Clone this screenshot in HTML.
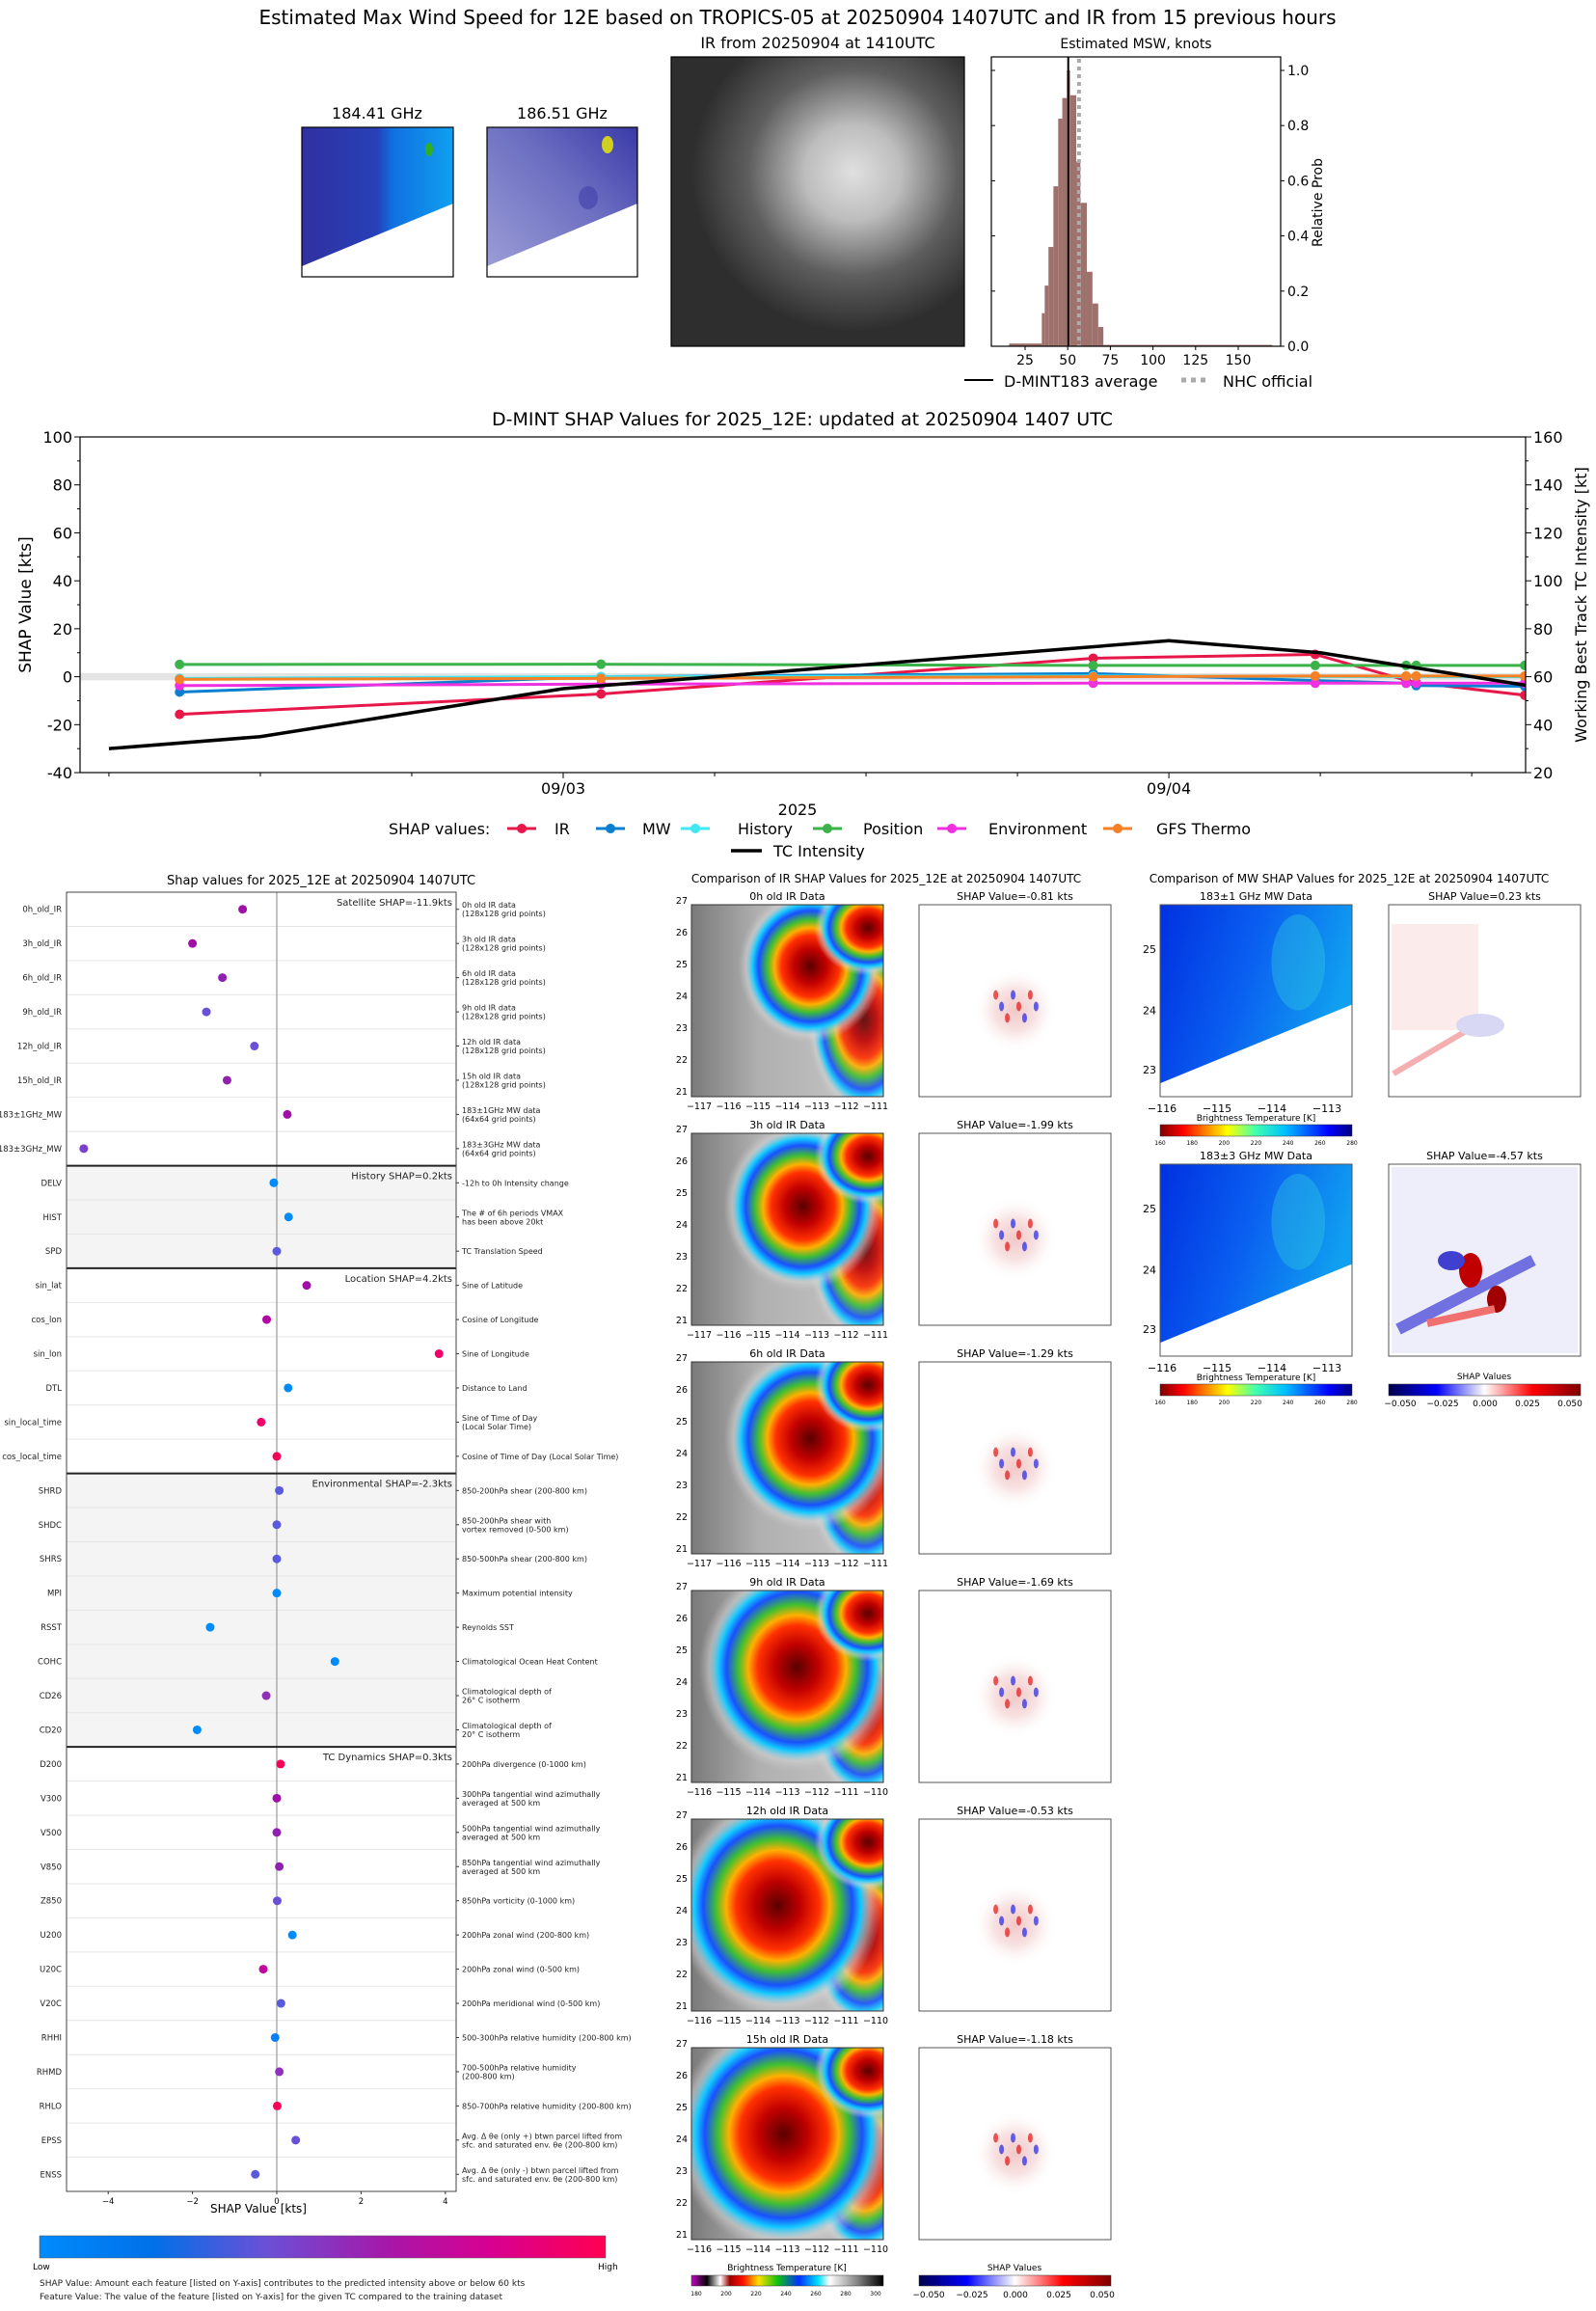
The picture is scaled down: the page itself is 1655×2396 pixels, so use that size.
<!DOCTYPE html>
<html><head><meta charset="utf-8">
<style>
html,body{margin:0;padding:0;background:#fff;}
svg{display:block;font-family:"DejaVu Sans","Liberation Sans",sans-serif;}
</style></head>
<body>
<svg id="root" width="1655" height="2396" viewBox="0 0 1655 2396" xmlns="http://www.w3.org/2000/svg">
<defs>
  <radialGradient id="irStorm" cx="0.5" cy="0.5" r="0.5">
    <stop offset="0" stop-color="#5a0000"/><stop offset="0.22" stop-color="#c00000"/>
    <stop offset="0.4" stop-color="#ff3000"/><stop offset="0.5" stop-color="#ffb000"/>
    <stop offset="0.6" stop-color="#40c030"/><stop offset="0.72" stop-color="#1a50ff"/>
    <stop offset="0.8" stop-color="#10c8ff"/><stop offset="0.9" stop-color="#d8d8d8" stop-opacity="0.5"/>
    <stop offset="1" stop-color="#cccccc" stop-opacity="0"/>
  </radialGradient>
  <linearGradient id="irBg" x1="0" x2="1" y1="0" y2="0">
    <stop offset="0" stop-color="#7a7a7a"/><stop offset="0.35" stop-color="#b0b0b0"/><stop offset="1" stop-color="#c8c8c8"/>
  </linearGradient>
  <radialGradient id="shapBlob" cx="0.5" cy="0.5" r="0.5">
    <stop offset="0" stop-color="#f2c8c8"/><stop offset="0.5" stop-color="#f8e2e2"/><stop offset="1" stop-color="#ffffff" stop-opacity="0"/>
  </radialGradient>
  <linearGradient id="mwBlue" x1="0" x2="1" y1="0" y2="0.3">
    <stop offset="0" stop-color="#0030e0"/><stop offset="0.5" stop-color="#0a5ef0"/><stop offset="1" stop-color="#10a0f0"/>
  </linearGradient>
  <linearGradient id="mwSmall1" x1="0" x2="1" y1="0" y2="0">
    <stop offset="0" stop-color="#3030a0"/><stop offset="0.5" stop-color="#2840b8"/><stop offset="0.6" stop-color="#1070e0"/><stop offset="1" stop-color="#10a0f0"/>
  </linearGradient>
  <linearGradient id="mwSmall2" x1="0" x2="1" y1="1" y2="0">
    <stop offset="0" stop-color="#9ea0d8"/><stop offset="0.6" stop-color="#6a6cc0"/><stop offset="1" stop-color="#3a3aa8"/>
  </linearGradient>
  <radialGradient id="irGray" cx="0.62" cy="0.4" r="0.55">
    <stop offset="0" stop-color="#e0e0e0"/><stop offset="0.3" stop-color="#bdbdbd"/><stop offset="0.65" stop-color="#5e5e5e"/><stop offset="1" stop-color="#2e2e2e"/>
  </radialGradient>
  <linearGradient id="shapCbar" x1="0" x2="1">
    <stop offset="0" stop-color="#008bfb"/><stop offset="0.2" stop-color="#0070e8"/><stop offset="0.4" stop-color="#6a50d6"/>
    <stop offset="0.62" stop-color="#a816a8"/><stop offset="0.8" stop-color="#d80090"/><stop offset="1" stop-color="#ff0052"/>
  </linearGradient>
  <linearGradient id="btCbar" x1="0" x2="1">
    <stop offset="0" stop-color="#c800c8"/><stop offset="0.08" stop-color="#000"/><stop offset="0.15" stop-color="#fff"/>
    <stop offset="0.2" stop-color="#a00000"/><stop offset="0.27" stop-color="#ff1000"/><stop offset="0.35" stop-color="#ffe000"/>
    <stop offset="0.45" stop-color="#10c010"/><stop offset="0.56" stop-color="#0030ff"/><stop offset="0.66" stop-color="#00e0ff"/>
    <stop offset="0.72" stop-color="#fff"/><stop offset="0.86" stop-color="#888"/><stop offset="1" stop-color="#000"/>
  </linearGradient>
  <linearGradient id="jetR" x1="0" x2="1">
    <stop offset="0" stop-color="#800000"/><stop offset="0.12" stop-color="#ff0000"/><stop offset="0.35" stop-color="#ffff00"/>
    <stop offset="0.5" stop-color="#40ffb0"/><stop offset="0.65" stop-color="#00c0ff"/><stop offset="0.88" stop-color="#0000ff"/><stop offset="1" stop-color="#000080"/>
  </linearGradient>
  <linearGradient id="seismic" x1="0" x2="1">
    <stop offset="0" stop-color="#00004c"/><stop offset="0.25" stop-color="#0000ff"/><stop offset="0.5" stop-color="#ffffff"/>
    <stop offset="0.75" stop-color="#ff0000"/><stop offset="1" stop-color="#800000"/>
  </linearGradient>
</defs>

<text x="827" y="25" font-size="20" text-anchor="middle">Estimated Max Wind Speed for 12E based on TROPICS-05 at 20250904 1407UTC and IR from 15 previous hours</text>

<g>
  <text x="391" y="123" font-size="16" text-anchor="middle">184.41 GHz</text>
  <rect x="313" y="132" width="157" height="155" fill="url(#mwSmall1)"/>
  <ellipse cx="445" cy="155" rx="4" ry="7" fill="#30b020"/>
  <polygon points="313,276 470,211 470,287 313,287" fill="#fff"/>
  <rect x="313" y="132" width="157" height="155" fill="none" stroke="#000" stroke-width="1.2"/>
</g>
<g>
  <text x="583" y="123" font-size="16" text-anchor="middle">186.51 GHz</text>
  <rect x="505" y="132" width="156" height="155" fill="url(#mwSmall2)"/>
  <ellipse cx="630" cy="150" rx="6" ry="9" fill="#d0d020"/>
  <ellipse cx="610" cy="205" rx="10" ry="12" fill="#4040a8" opacity="0.6"/>
  <polygon points="505,276 661,211 661,287 505,287" fill="#fff"/>
  <rect x="505" y="132" width="156" height="155" fill="none" stroke="#000" stroke-width="1.2"/>
</g>
<g>
  <text x="848" y="50" font-size="16" text-anchor="middle">IR from 20250904 at 1410UTC</text>
  <rect x="696" y="59" width="304" height="300" fill="url(#irGray)" stroke="#000" stroke-width="1.2"/>
</g>

<g id="hist"></g>
<g id="main"></g>
<g id="feat"></g>
<g id="irpanels"></g>
<g id="mwpanels"></g>
</svg>

<script>
const histEdges=[15.6,34.8,36.5,38.7,41.6,44.4,46.8,49.5,51.4,55,57.4,61.2,64.5,67.9,70.9,170];
const histProb=[0.01,0.12,0.22,0.36,0.58,0.825,0.90,1.0,0.91,0.67,0.52,0.27,0.155,0.07,0.005];
const histMean=[50.3];
const histNhc=[56.6];
const histXTicks=[25,50,75,100,125,150];
const histYTicks=[0,0.2,0.4,0.6,0.8,1.0];

const shapHours=[8.8,25.5,45,53.8,57.4,57.8,62.1];
const shapIR=[-15.7,-7.2,7.7,9.3,-1.5,-2.5,-7.7];
const shapMW=[-6.4,0,1.3,-1.6,-2.7,-3.7,-4.0];
const shapHistory=[-0.7,0,0.3,0.1,0,0,0];
const shapPosition=[5.1,5.2,4.7,4.7,4.7,4.7,4.7];
const shapEnvironment=[-3.7,-3.1,-2.7,-2.7,-2.7,-2.7,-2.7];
const shapGfs=[-1.1,-0.7,0,0.3,0.3,0.3,0.3];
const tcHours=[6,12,24,48,54,63];
const tcIntensity=[30,35,55,75,70,55];
const leftTicks=[-40,-20,0,20,40,60,80,100];
const rightTicks=[20,40,60,80,100,120,140,160];
const dateTickHours=[24,48];
const dateTickLabels=["09/03","09/04"];

const featNames=["0h_old_IR","3h_old_IR","6h_old_IR","9h_old_IR","12h_old_IR","15h_old_IR","183±1GHz_MW","183±3GHz_MW","DELV","HIST","SPD","sin_lat","cos_lon","sin_lon","DTL","sin_local_time","cos_local_time","SHRD","SHDC","SHRS","MPI","RSST","COHC","CD26","CD20","D200","V300","V500","V850","Z850","U200","U20C","V20C","RHHI","RHMD","RHLO","EPSS","ENSS"];
const featValues=[-0.81,-2.0,-1.29,-1.67,-0.53,-1.18,0.25,-4.58,-0.07,0.28,0.0,0.71,-0.24,3.85,0.27,-0.37,0.0,0.06,0.0,0.0,0.0,-1.58,1.38,-0.25,-1.89,0.09,0.0,0.0,0.06,0.01,0.37,-0.32,0.1,-0.04,0.06,0.01,0.45,-0.51];
const featDesc=["0h old IR data|(128x128 grid points)","3h old IR data|(128x128 grid points)","6h old IR data|(128x128 grid points)","9h old IR data|(128x128 grid points)","12h old IR data|(128x128 grid points)","15h old IR data|(128x128 grid points)","183±1GHz MW data|(64x64 grid points)","183±3GHz MW data|(64x64 grid points)","-12h to 0h Intensity change","The # of 6h periods VMAX|has been above 20kt","TC Translation Speed","Sine of Latitude","Cosine of Longitude","Sine of Longitude","Distance to Land","Sine of Time of Day|(Local Solar Time)","Cosine of Time of Day (Local Solar Time)","850-200hPa shear (200-800 km)","850-200hPa shear with|vortex removed (0-500 km)","850-500hPa shear (200-800 km)","Maximum potential intensity","Reynolds SST","Climatological Ocean Heat Content","Climatological depth of|26° C isotherm","Climatological depth of|20° C isotherm","200hPa divergence (0-1000 km)","300hPa tangential wind azimuthally|averaged at 500 km","500hPa tangential wind azimuthally|averaged at 500 km","850hPa tangential wind azimuthally|averaged at 500 km","850hPa vorticity (0-1000 km)","200hPa zonal wind (200-800 km)","200hPa zonal wind (0-500 km)","200hPa meridional wind (0-500 km)","500-300hPa relative humidity (200-800 km)","700-500hPa relative humidity|(200-800 km)","850-700hPa relative humidity (200-800 km)","Avg. Δ θe (only +) btwn parcel lifted from|sfc. and saturated env. θe (200-800 km)","Avg. Δ θe (only -) btwn parcel lifted from|sfc. and saturated env. θe (200-800 km)"];
const featColors=["#a010a8","#a010a8","#9020b0","#6a50d6","#6a50d6","#9020b0","#a010a8","#7a40d0","#008bfb","#008bfb","#5a5ade","#a010a8","#b008a0","#f00068","#008bfb","#f00068","#f80058","#5a5ade","#5a5ade","#5a5ade","#008bfb","#008bfb","#008bfb","#9030b8","#008bfb","#f80058","#a010a8","#9020b0","#9020b0","#6a50d6","#008bfb","#c0089c","#5a5ade","#0a80f8","#9030c0","#ff0052","#6a50d6","#5a5ade"];
const groupStarts=[0,8,11,17,25];
const groupTitles=["Satellite SHAP=-11.9kts","History SHAP=0.2kts","Location SHAP=4.2kts","Environmental SHAP=-2.3kts","TC Dynamics SHAP=0.3kts"];
const featXTicks=[-4,-2,0,2,4];

const irRowTitles=["0h old IR Data","3h old IR Data","6h old IR Data","9h old IR Data","12h old IR Data","15h old IR Data"];
const irShapTitles=["SHAP Value=-0.81 kts","SHAP Value=-1.99 kts","SHAP Value=-1.29 kts","SHAP Value=-1.69 kts","SHAP Value=-0.53 kts","SHAP Value=-1.18 kts"];
</script>
<script>
const NS="http://www.w3.org/2000/svg";
function mk(parent,tag,attrs,txt){const e=document.createElementNS(NS,tag);for(const k in attrs)e.setAttribute(k,attrs[k]);if(txt!==undefined)e.textContent=txt;parent.appendChild(e);return e;}

(function(){
  const g=document.getElementById('hist');
  const L=1028,R=1328,T=59,B=359;
  const xs=k=>1063+(k-25)*1.768, ys=p=>B-p*286;
  const t=mk(g,'text',{x:1178,y:50,'font-size':14,'text-anchor':'middle'},'Estimated MSW, knots');
  
  
  for(let i=0;i<histProb.length;i++){
    const x0=xs(histEdges[i]),x1=xs(histEdges[i+1]);
    const r=mk(g,'rect',{x:x0,y:ys(histProb[i]),width:Math.max(0,x1-x0),height:B-ys(histProb[i]),fill:'#9e716c'});
    
    
  }
  const ml=mk(g,'line',{x1:xs(histMean[0]),x2:xs(histMean[0]),y1:T,y2:B,stroke:'#000','stroke-width':2});
  
  
  const nl=mk(g,'line',{x1:xs(histNhc[0]),x2:xs(histNhc[0]),y1:T+2,y2:B,stroke:'#aaa','stroke-width':4,'stroke-dasharray':'4,4'});
  
  
  mk(g,'rect',{x:L,y:T,width:R-L,height:B-T,fill:'none',stroke:'#000','stroke-width':1.2});
  histXTicks.forEach(v=>{mk(g,'line',{x1:xs(v),x2:xs(v),y1:B,y2:B+4,stroke:'#000'});
    const tl=mk(g,'text',{x:xs(v),y:B+19,'font-size':14,'text-anchor':'middle'},String(v));
    
    });
  histYTicks.forEach(v=>{mk(g,'line',{x1:R,x2:R+4,y1:ys(v),y2:ys(v),stroke:'#000'});mk(g,'line',{x1:L,x2:L+4,y1:ys(v),y2:ys(v),stroke:'#000'});
    const tl=mk(g,'text',{x:R+7,y:ys(v)+5,'font-size':14},v.toFixed(1));
    
    });
  const yl=mk(g,'text',{x:0,y:0,'font-size':14,'text-anchor':'middle',transform:'translate(1371,210) rotate(-90)'},'Relative Prob');
  
  
  mk(g,'line',{x1:1000,x2:1030,y1:394,y2:394,stroke:'#000','stroke-width':2});
  const l1=mk(g,'text',{x:1041,y:401,'font-size':16},'D-MINT183 average');
  
  
  mk(g,'line',{x1:1225,x2:1255,y1:394,y2:394,stroke:'#aaa','stroke-width':5,'stroke-dasharray':'5,5'});
  const l2=mk(g,'text',{x:1268,y:401,'font-size':16},'NHC official');
  
  
})();

(function(){
  const g=document.getElementById('main');
  const L=83,R=1582,T=453,B=801;
  const xs=h=>584+(h-24)*26.17, yl=v=>T+(100-v)*2.486, yr=k=>T+(160-k)*2.486;
  const tt=mk(g,'text',{x:832,y:441,'font-size':19,'text-anchor':'middle'},'D-MINT SHAP Values for 2025_12E: updated at 20250904 1407 UTC');
  
  
  const cp=mk(g,'clipPath',{id:'mainClip'});mk(cp,'rect',{x:L,y:T,width:R-L,height:B-T});
  const band=mk(g,'rect',{x:L,y:yl(1.5),width:R-L,height:yl(-1.5)-yl(1.5),fill:'#e4e4e4'});
  
  
  const pg=mk(g,'g',{'clip-path':'url(#mainClip)'});
  const series=[["IR",shapIR,"#e8174a"],["MW",shapMW,"#0a7fd0"],["History",shapHistory,"#40e8f0"],["Position",shapPosition,"#3bb34a"],["Environment",shapEnvironment,"#f030e0"],["GFS Thermo",shapGfs,"#f58025"]];
  series.forEach(([nm,vals,c])=>{
    const pts=shapHours.map((h,i)=>xs(h)+','+yl(vals[i])).join(' ');
    const pl=mk(pg,'polyline',{points:pts,fill:'none',stroke:c,'stroke-width':3});
    
    
    shapHours.forEach((h,i)=>{const m=mk(pg,'circle',{cx:xs(h),cy:yl(vals[i]),r:5,fill:c});
      
      });
  });
  const tc=mk(pg,'polyline',{points:tcHours.map((h,i)=>xs(h)+','+yr(tcIntensity[i])).join(' '),fill:'none',stroke:'#000','stroke-width':3.5});
  
  
  mk(g,'rect',{x:L,y:T,width:R-L,height:B-T,fill:'none',stroke:'#000','stroke-width':1.2});
  for(let v=-40;v<=100;v+=10){mk(g,'line',{x1:L-(v%20?3:6),x2:L,y1:yl(v),y2:yl(v),stroke:'#000'});}
  for(let k=20;k<=160;k+=10){mk(g,'line',{x1:R,x2:R+(k%20?3:6),y1:yr(k),y2:yr(k),stroke:'#000'});}
  leftTicks.forEach(v=>{const t=mk(g,'text',{x:L-8,y:yl(v)+6,'font-size':16,'text-anchor':'end'},String(v));
    
    });
  rightTicks.forEach(k=>{const t=mk(g,'text',{x:R+8,y:yr(k)+6,'font-size':16},String(k));
    
    });
  for(let h=6;h<=60;h+=6){mk(g,'line',{x1:xs(h),x2:xs(h),y1:B,y2:B+(h%24?4:6),stroke:'#000'});}
  dateTickHours.forEach((h,i)=>{const t=mk(g,'text',{x:xs(h),y:B+22,'font-size':16,'text-anchor':'middle'},dateTickLabels[i]);
    
    });
  const xt=mk(g,'text',{x:827,y:845,'font-size':16,'text-anchor':'middle'},'2025');
  
  
  const ylab=mk(g,'text',{x:0,y:0,'font-size':17,'text-anchor':'middle',transform:'translate(32,627) rotate(-90)'},'SHAP Value [kts]');
  
  
  const yrl=mk(g,'text',{x:0,y:0,'font-size':16,'text-anchor':'middle',transform:'translate(1645,627) rotate(-90)'},'Working Best Track TC Intensity [kt]');
  
  
  const lt=mk(g,'text',{x:403,y:865,'font-size':16},'SHAP values:');
  
  
  const lx=[[526,575],[618,666],[706,765],[843,895],[972,1025],[1144,1199]];
  series.forEach(([nm,vals,c],i)=>{
    mk(g,'line',{x1:lx[i][0],x2:lx[i][0]+30,y1:859,y2:859,stroke:c,'stroke-width':3});
    mk(g,'circle',{cx:lx[i][0]+15,cy:859,r:5,fill:c});
    const t=mk(g,'text',{x:lx[i][1],y:865,'font-size':16},nm);
    
    
  });
  mk(g,'line',{x1:758,x2:790,y1:882,y2:882,stroke:'#000','stroke-width':3.5});
  const tl=mk(g,'text',{x:802,y:888,'font-size':16},'TC Intensity');
  
  
})();

(function(){
  const g=document.getElementById('feat');
  const L=69,R=473,T=925,B=2272,n=featNames.length,rh=(B-T)/n;
  const xs=v=>287+v*43.7, yc=i=>T+(i+0.5)*rh;
  const tt=mk(g,'text',{x:333,y:917,'font-size':13,'text-anchor':'middle'},'Shap values for 2025_12E at 20250904 1407UTC');
  
  
  [[8,11],[17,25]].forEach(([a,b])=>mk(g,'rect',{x:L,y:T+a*rh,width:R-L,height:(b-a)*rh,fill:'#f4f4f4'}));
  for(let i=1;i<n;i++)mk(g,'line',{x1:L,x2:R,y1:T+i*rh,y2:T+i*rh,stroke:'#e6e6e6'});
  mk(g,'line',{x1:xs(0),x2:xs(0),y1:T,y2:B,stroke:'#999','stroke-width':1.2});
  groupStarts.forEach((s,i)=>{if(s>0)mk(g,'line',{x1:L,x2:R,y1:T+s*rh,y2:T+s*rh,stroke:'#222','stroke-width':2});
    const t=mk(g,'text',{x:R-4,y:T+s*rh+14,'font-size':10,'text-anchor':'end',fill:'#222'},groupTitles[i]);
    
    });
  featNames.forEach((nm,i)=>{
    const t=mk(g,'text',{x:L-5,y:yc(i)+3,'font-size':8.5,'text-anchor':'end',fill:'#222'},nm);
    
    
    mk(g,'line',{x1:R,x2:R+3,y1:yc(i),y2:yc(i),stroke:'#333'});
    const parts=featDesc[i].split('|');
    parts.forEach((p,j)=>{const d=mk(g,'text',{x:R+6,y:yc(i)+3+(j-(parts.length-1)/2)*9,'font-size':8,fill:'#222'},p);
      
      });
    const c=mk(g,'circle',{cx:xs(featValues[i]),cy:yc(i),r:4.5,fill:featColors[i]});
    
    
  });
  mk(g,'rect',{x:L,y:T,width:R-L,height:B-T,fill:'none',stroke:'#444','stroke-width':1});
  featXTicks.forEach(v=>{mk(g,'line',{x1:xs(v),x2:xs(v),y1:B,y2:B+3,stroke:'#333'});
    const t=mk(g,'text',{x:xs(v),y:B+13,'font-size':8.5,'text-anchor':'middle'},(v<0?'−':'')+Math.abs(v));
    
    });
  const xl=mk(g,'text',{x:268,y:2294,'font-size':12,'text-anchor':'middle'},'SHAP Value [kts]');
  
  
  const cb=mk(g,'rect',{x:41,y:2318,width:587,height:23,fill:'url(#shapCbar)',stroke:'#555','stroke-width':0.5});
  
  
  mk(g,'text',{x:34,y:2353,'font-size':9},'Low');
  mk(g,'text',{x:620,y:2353,'font-size':9},'High');
  const n1=mk(g,'text',{x:41,y:2370,'font-size':9,fill:'#222'},'SHAP Value: Amount each feature [listed on Y-axis] contributes to the predicted intensity above or below 60 kts');
  
  
  const n2=mk(g,'text',{x:41,y:2384,'font-size':9,fill:'#222'},'Feature Value: The value of the feature [listed on Y-axis] for the given TC compared to the training dataset');
  
  
})();

(function(){
  const g=document.getElementById('irpanels');
  const t=mk(g,'text',{x:919,y:915,'font-size':12,'text-anchor':'middle'},'Comparison of IR SHAP Values for 2025_12E at 20250904 1407UTC');
  
  
  const IX=717,SX=953,W=199,H=199;
  const blobs=[[0.62,0.32,0.5],[0.58,0.38,0.55],[0.62,0.4,0.6],[0.55,0.4,0.68],[0.45,0.45,0.72],[0.48,0.45,0.76]];
  const lonLabels=[["−117","−116","−115","−114","−113","−112","−111"],["−117","−116","−115","−114","−113","−112","−111"],["−117","−116","−115","−114","−113","−112","−111"],["−116","−115","−114","−113","−112","−111","−110"],["−116","−115","−114","−113","−112","−111","−110"],["−116","−115","−114","−113","−112","−111","−110"]];
  for(let r=0;r<6;r++){
    const y=938+r*237;
    const a=mk(g,'text',{x:IX+W/2,y:y-5,'font-size':11,'text-anchor':'middle'},irRowTitles[r]);
    
    
    const b=mk(g,'text',{x:SX+W/2,y:y-5,'font-size':11,'text-anchor':'middle'},irShapTitles[r]);
    
    
    const cid='irc'+r;const cp=mk(g,'clipPath',{id:cid});mk(cp,'rect',{x:IX,y:y,width:W,height:H});
    const ig=mk(g,'g',{'clip-path':'url(#'+cid+')'});
    
    
    mk(ig,'rect',{x:IX,y:y,width:W,height:H,fill:'url(#irBg)'});
    const [bx,by,bs]=blobs[r];
    mk(ig,'ellipse',{cx:IX+0.9*W,cy:y+0.6*H,rx:0.3*W,ry:0.5*H,fill:'url(#irStorm)',opacity:0.9});
    mk(ig,'ellipse',{cx:IX+bx*W,cy:y+by*H,rx:bs*W*0.75,ry:bs*H*0.8,fill:'url(#irStorm)'});
    mk(ig,'ellipse',{cx:IX+0.92*W,cy:y+0.12*H,rx:0.28*W,ry:0.25*H,fill:'url(#irStorm)'});
    mk(g,'rect',{x:IX,y:y,width:W,height:H,fill:'none',stroke:'#333'});
    lonLabels[r].forEach((l,i)=>{const tx=mk(g,'text',{x:IX+8+i*30.5,y:y+H+13,'font-size':9.5,'text-anchor':'middle'},l);
      
      });
    for(let k=0;k<7;k++){const tx=mk(g,'text',{x:IX-4,y:y+H-2-k*33,'font-size':9.5,'text-anchor':'end'},String(21+k));
      
      }
    const sg=mk(g,'g',{});
    
    
    mk(sg,'rect',{x:SX,y:y,width:W,height:H,fill:'#fff',stroke:'#555'});
    mk(sg,'ellipse',{cx:SX+W*0.5,cy:y+H*0.55,rx:W*0.22,ry:H*0.22,fill:'url(#shapBlob)'});
    for(let k=0;k<8;k++){
      mk(sg,'ellipse',{cx:SX+W*(0.4+k*0.03),cy:y+H*(0.47+(k%3)*0.06),rx:2.5,ry:5,fill:k%2?'#3030e0':'#e02020',opacity:0.75});
    }
  }
  const bt=mk(g,'rect',{x:717,y:2359,width:199,height:11,fill:'url(#btCbar)',stroke:'#333','stroke-width':0.5});
  
  
  mk(g,'text',{x:816,y:2354,'font-size':9,'text-anchor':'middle'},'Brightness Temperature [K]');
  [180,200,220,240,260,280,300].forEach((v,i)=>mk(g,'text',{x:717+i*31+5,y:2380,'font-size':6,'text-anchor':'middle'},String(v)));
  const sc=mk(g,'rect',{x:953,y:2359,width:199,height:11,fill:'url(#seismic)',stroke:'#333','stroke-width':0.5});
  
  
  mk(g,'text',{x:1052,y:2354,'font-size':9,'text-anchor':'middle'},'SHAP Values');
  ['−0.050','−0.025','0.000','0.025','0.050'].forEach((v,i)=>mk(g,'text',{x:963+i*45,y:2382,'font-size':9,'text-anchor':'middle'},v));
})();

(function(){
  const g=document.getElementById('mwpanels');
  const t=mk(g,'text',{x:1399,y:915,'font-size':12,'text-anchor':'middle'},'Comparison of MW SHAP Values for 2025_12E at 20250904 1407UTC');
  
  
  const MX=1203,SX=1440,W=199,H=199;
  const ys=[938,1207],ttl=['183±1 GHz MW Data','183±3 GHz MW Data'],st=['SHAP Value=0.23 kts','SHAP Value=-4.57 kts'];
  ys.forEach((y,r)=>{
    const a=mk(g,'text',{x:MX+W/2,y:y-5,'font-size':11,'text-anchor':'middle'},ttl[r]);
    
    
    const b=mk(g,'text',{x:SX+W/2,y:y-5,'font-size':11,'text-anchor':'middle'},st[r]);
    
    
    const im=mk(g,'rect',{x:MX,y:y,width:W,height:H,fill:'url(#mwBlue)'});
    
    
    mk(g,'ellipse',{cx:MX+W*0.72,cy:y+H*0.3,rx:W*0.14,ry:H*0.25,fill:'#30c8e0',opacity:0.4});
    mk(g,'polygon',{points:`${MX},${y+H*0.93} ${MX+W},${y+H*0.52} ${MX+W},${y+H} ${MX},${y+H}`,fill:'#fff'});
    mk(g,'rect',{x:MX,y:y,width:W,height:H,fill:'none',stroke:'#555'});
    ['−116','−115','−114','−113'].forEach((l,i)=>mk(g,'text',{x:MX+2+i*57,y:y+H+16,'font-size':11,'text-anchor':'middle'},l));
    [[0.23,'25'],[0.55,'24'],[0.86,'23']].forEach(([f,l])=>mk(g,'text',{x:MX-4,y:y+H*f+4,'font-size':11,'text-anchor':'end'},l));
    const sg=mk(g,'g',{});
    
    
    mk(sg,'rect',{x:SX,y:y,width:W,height:H,fill:'#fff',stroke:'#555'});
    if(r===0){
      mk(sg,'rect',{x:SX+3,y:y+20,width:90,height:110,fill:'#fae6e6',opacity:0.8});
      mk(sg,'line',{x1:SX+5,x2:SX+100,y1:y+H*0.88,y2:y+H*0.6,stroke:'#f4b0b0','stroke-width':6});
      mk(sg,'ellipse',{cx:SX+95,cy:y+125,rx:25,ry:12,fill:'#d8d8f4'});
    } else {
      mk(sg,'rect',{x:SX+3,y:y+3,width:W-6,height:H-6,fill:'#eeeefa'});
      mk(sg,'line',{x1:SX+10,x2:SX+150,y1:y+H*0.86,y2:y+H*0.5,stroke:'#7070e0','stroke-width':12});
      mk(sg,'ellipse',{cx:SX+85,cy:y+110,rx:12,ry:18,fill:'#c00000'});
      mk(sg,'ellipse',{cx:SX+112,cy:y+140,rx:10,ry:14,fill:'#a00000'});
      mk(sg,'ellipse',{cx:SX+65,cy:y+100,rx:14,ry:10,fill:'#4040d0'});
      mk(sg,'line',{x1:SX+40,x2:SX+110,y1:y+165,y2:y+150,stroke:'#f07070','stroke-width':8});
    }
    const cy=r===0?1166:1435;
    const cb=mk(g,'rect',{x:MX,y:cy,width:W,height:12,fill:'url(#jetR)',stroke:'#333','stroke-width':0.5});
    
    
    mk(g,'text',{x:MX+W/2,y:cy-4,'font-size':9,'text-anchor':'middle'},'Brightness Temperature [K]');
    [160,180,200,220,240,260,280].forEach((v,i)=>mk(g,'text',{x:MX+i*W/6,y:cy+21,'font-size':6,'text-anchor':'middle'},String(v)));
  });
  const sc=mk(g,'rect',{x:1440,y:1435,width:199,height:12,fill:'url(#seismic)',stroke:'#333','stroke-width':0.5});
  
  
  mk(g,'text',{x:1539,y:1430,'font-size':9,'text-anchor':'middle'},'SHAP Values');
  ['−0.050','−0.025','0.000','0.025','0.050'].forEach((v,i)=>mk(g,'text',{x:1452+i*44,y:1458,'font-size':9,'text-anchor':'middle'},v));
})();
</script>
</body></html>
